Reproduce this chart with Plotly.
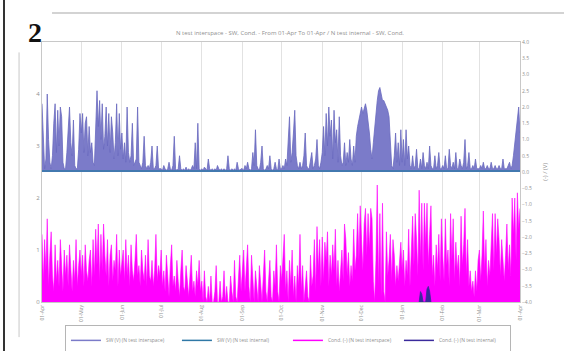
import pandas as pd
import plotly.graph_objects as go

# Daily readings, 01-Apr-2022 .. 31-Mar-2023, one list per month
sw_apr = [2.1,1.2,0.1,0.4,2.4,1.0,0.3,0.1,0.5,1.5, 2.1,0.6,1.9,0.8,2.0,1.7,0.3,0.1,0.1,0.6, 1.4,2.0,0.9,0.5,1.6,0.2,0.1,0.1,0.7,1.8]
sw_may = [1.2,1.8,0.6,1.5,1.7,0.5,1.4,0.6,0.9,0.3, 0.2,1.2,2.5,1.4,2.2,1.0,2.1,0.7,1.1,2.0, 0.8,1.8,0.6,1.7,1.2,0.4,0.9,2.1,0.5,1.8, 0.7]
sw_jun = [1.2,0.4,0.9,0.3,2.0,0.6,0.3,0.5,1.5,0.2, 0.3,0.4,2.0,0.3,0.2,0.1,0.3,1.1,0.2,0.1, 0.2,0.1,0.3,0.8,0.1,0.1,0.2,0.8,0.1,0.1]
sw_jul = [0.1,0.05,0.2,0.1,0.05,0.1,0.3,0.1,0.05,0.2, 1.1,0.1,0.05,0.1,0.5,0.1,0.05,0.1,0.05,0.15, 0.05,0.1,0.05,0.1,0.2,0.1,0.9,0.1,1.5,0.1, 0.05]
sw_aug = [0.1,0.05,0.15,0.1,0.05,0.4,0.1,0.05,0.1,0.05, 0.1,0.05,0.2,0.1,0.05,0.1,0.05,0.1,0.05,0.1, 0.5,0.1,0.05,0.1,0.05,0.1,0.05,0.3,0.1,0.05, 0.1]
sw_sep = [0.1,0.05,0.2,0.1,0.3,0.1,0.05,0.1,0.6,0.2, 1.3,0.2,0.1,0.05,0.3,0.8,0.1,0.05,0.1,0.2, 0.1,0.5,0.1,0.05,0.1,0.3,0.1,0.05,0.4,0.1]
sw_oct = [0.1,0.2,0.1,0.4,0.2,0.8,1.7,0.3,0.6,1.2, 1.9,0.5,0.2,0.1,0.3,0.1,0.2,0.5,1.2,0.2, 0.1,0.1,0.3,0.6,0.1,0.2,0.4,1.0,0.2,0.1, 0.3]
sw_nov = [0.6,1.4,0.5,1.8,0.8,2.0,1.1,1.6,0.4,1.9, 0.9,1.3,0.3,1.7,0.5,0.2,0.3,0.9,0.2,0.6, 0.3,1.0,0.4,0.2,0.8,0.3,1.1,1.4,1.6,1.9]
sw_dec = [2.0,1.8,2.0,2.1,1.9,1.6,1.2,0.7,0.4,0.9, 1.4,1.8,2.2,2.5,2.6,2.4,2.2,2.2,2.1,2.0, 1.9,1.7,0.8,0.2,0.1,0.5,1.2,0.3,0.9,0.2, 1.3]
sw_jan = [0.3,1.0,0.2,1.3,0.4,0.8,0.2,0.1,0.5,0.1, 0.2,0.7,0.1,0.1,0.4,0.1,0.6,0.2,0.1,0.3, 0.1,0.8,0.2,0.1,0.1,0.5,0.1,0.2,0.6,0.1, 0.1]
sw_feb = [0.2,0.1,0.5,0.1,0.1,0.7,0.2,0.1,0.3,0.1, 0.6,0.1,0.1,0.4,0.2,0.1,0.3,1.0,0.1,0.2, 0.6,0.1,0.1,0.2,0.1,0.4,0.1,0.1]
sw_mar = [0.1,0.2,0.1,0.3,0.1,0.1,0.2,0.1,0.1,0.3, 0.1,0.1,0.2,0.1,0.1,0.2,0.1,0.1,0.4,0.1, 0.1,0.1,0.2,0.3,0.1,0.2,0.5,0.9,1.3,1.6, 2.0]
sw_last = [1.2]

cond_apr = [1.3,0.4,1.2,0.6,1.6,0.3,0.9,1.35,0.5,0.2, 1.1,0.4,0.8,0.3,1.2,0.6,0.2,1.0,0.5,0.9, 0.3,1.1,0.6,0.2,0.8,0.4,1.2,0.3,0.7,1.0]
cond_may = [0.5,0.9,0.3,1.1,0.6,0.4,0.8,1.0,0.3,1.2, 0.5,1.4,0.7,1.5,0.4,1.3,0.6,1.5,0.9,0.5, 1.2,0.3,0.9,1.1,0.4,0.8,0.6,1.3,0.3,1.0, 0.5]
cond_jun = [0.7,1.0,0.4,1.2,0.5,0.9,0.3,1.1,0.6,0.4, 0.8,1.3,0.5,0.7,0.3,1.0,0.6,0.4,0.9,0.3, 1.2,0.5,0.4,0.8,0.3,0.6,1.3,0.4,0.7,0.5]
cond_jul = [1.0,0.3,0.6,0.2,0.9,0.4,0.1,0.7,1.1,0.3, 0.5,0.2,0.8,0.4,0.1,0.6,1.0,0.3,0.2,0.7, 0.4,0.1,0.5,0.9,0.2,0.4,0.1,0.6,0.3,0.8, 0.2]
cond_aug = [0.4,0.0,0.6,0.1,0.0,0.3,0.0,0.5,0.0,0.0, 0.2,0.7,0.0,0.0,0.4,0.0,0.1,0.6,0.0,0.3, 0.0,0.0,0.5,0.2,0.0,0.8,0.1,0.0,0.4,0.9, 0.2]
cond_sep = [0.6,1.0,0.2,0.8,1.1,0.3,0.0,0.9,0.4,0.0, 0.6,0.2,0.0,0.7,0.3,0.0,0.5,1.0,0.2,0.0, 0.4,0.8,0.1,0.0,0.6,0.3,1.1,0.2,0.0,0.7]
cond_oct = [0.4,0.9,1.3,0.2,0.6,0.0,0.8,0.3,1.0,0.1, 0.5,0.0,0.7,0.3,1.3,0.2,0.7,0.0,0.4,0.6, 0.1,0.0,0.9,0.3,0.5,1.2,0.2,1.45,0.6,1.2, 0.3]
cond_nov = [1.25,0.4,1.15,0.8,1.35,0.3,0.9,0.5,1.1,0.6, 1.4,0.3,0.8,0.2,0.7,1.0,0.4,1.5,1.2,0.5, 0.95,0.3,0.7,0.4,1.4,0.6,0.9,1.7,0.8,1.85]
cond_dec = [1.2,0.6,1.5,1.8,0.9,1.7,1.0,1.8,1.6,0.4, 0.0,0.8,2.25,0.3,1.7,0.1,1.9,0.2,0.0,1.35, 0.5,0.8,1.3,0.4,1.2,0.9,0.3,0.7,0.4,0.9, 1.15]
cond_jan = [0.6,1.0,0.3,0.8,0.5,1.4,0.3,0.9,1.65,0.7, 1.7,1.2,0.5,2.15,0.8,1.9,0.6,1.9,1.1,1.9, 0.7,1.3,1.85,0.5,0.9,0.3,1.1,0.6,1.3,0.4, 1.6]
cond_feb = [0.9,0.4,1.6,0.7,1.0,0.3,1.7,0.8,1.6,0.4, 1.15,0.6,0.9,0.3,1.65,0.7,1.1,1.8,0.5,1.2, 0.3,0.6,0.2,0.4,0.1,0.6,0.2,0.8]
cond_mar = [1.0,0.4,0.9,1.75,0.6,1.2,0.3,0.8,0.5,1.1, 1.7,0.6,1.7,0.9,1.6,1.2,0.5,1.2,0.7,0.4, 0.9,1.5,0.6,1.1,0.5,2.0,1.3,2.0,0.8,2.1, 1.4]
cond_last = [1.8]

# Internal sensor: SW stays flat, conductivity only registers briefly in January
sw_internal_dates = ["2022-04-01", "2022-06-01", "2022-08-01", "2022-10-01", "2022-12-01", "2023-02-01", "2023-04-01"]
sw_internal_values = [0.03, 0.03, 0.02, 0.03, 0.03, 0.02, 0.03]
cond_internal_dates = ["2023-01-14", "2023-01-15", "2023-01-16", "2023-01-17", "2023-01-19",
                       "2023-01-20", "2023-01-21", "2023-01-22", "2023-01-23"]
cond_internal_values = [0.0, 0.2, 0.15, 0.0, 0.0, 0.25, 0.3, 0.2, 0.0]

series_names = ["SW (V) (N test interspace)", "SW (V) (N test internal)",
                "Cond. (-) (N test interspace)", "Cond. (-) (N test internal)"]
series_colors = ["#7b7bc9", "#2f78a6", "#ff00ff", "#3a2a9c"]

month_ticks = pd.date_range("2022-04-01", "2023-04-01", freq="MS")
days = pd.date_range("2022-04-01", "2023-04-01", freq="D")

sw_interspace = (sw_apr + sw_may + sw_jun + sw_jul + sw_aug + sw_sep + sw_oct + sw_nov
                 + sw_dec + sw_jan + sw_feb + sw_mar + sw_last)
cond_interspace = (cond_apr + cond_may + cond_jun + cond_jul + cond_aug + cond_sep + cond_oct
                   + cond_nov + cond_dec + cond_jan + cond_feb + cond_mar + cond_last)

GREY = "#8f8f8f"
FONT = "Open Sans"

fig = go.Figure()
fig.add_trace(go.Scatter(
    x=days, y=sw_interspace, yaxis="y2", mode="lines", fill="tozeroy",
    line=dict(color="#6a6abf", width=0.8), fillcolor=series_colors[0],
    name=series_names[0], showlegend=False))
fig.add_trace(go.Scatter(
    x=pd.to_datetime(sw_internal_dates), y=sw_internal_values, yaxis="y2", mode="lines",
    line=dict(color=series_colors[1], width=1.5), name=series_names[1], showlegend=False))
fig.add_trace(go.Scatter(
    x=days, y=cond_interspace, mode="lines", fill="tozeroy",
    line=dict(color=series_colors[2], width=0.6), fillcolor=series_colors[2],
    name=series_names[2], showlegend=False))
fig.add_trace(go.Scatter(
    x=pd.to_datetime(cond_internal_dates), y=cond_internal_values, mode="lines", fill="tozeroy",
    line=dict(color=series_colors[3], width=0.8), fillcolor=series_colors[3],
    name=series_names[3], showlegend=False))

# Legend shows every series as a plain line key
for name, color in zip(series_names, series_colors):
    fig.add_trace(go.Scatter(x=[None], y=[None], mode="lines", name=name,
                             line=dict(color=color, width=1.5)))

fig.update_layout(
    width=564, height=351,
    margin=dict(l=42, r=44, t=42, b=49, autoexpand=False),
    paper_bgcolor="white", plot_bgcolor="white",
    font=dict(family=FONT, size=6, color=GREY),
    showlegend=True,
    legend=dict(orientation="h", x=0.048, y=-0.088, xanchor="left", yanchor="top",
                bordercolor="#b5b5b5", borderwidth=1, bgcolor="white",
                font=dict(size=5, color=GREY), entrywidth=66, itemwidth=30,
                tracegroupgap=0),
    xaxis=dict(range=[days[0], days[-1]], tickvals=month_ticks, tickformat="%d-%b",
               tickangle=-90, showgrid=True, gridcolor="#e2e2e2", gridwidth=1,
               showline=True, linecolor="#c8c8c8", mirror=True, ticks="",
               tickfont=dict(size=5, color=GREY), zeroline=False),
    yaxis=dict(range=[0, 5], tickvals=[0, 1, 2, 3, 4], showgrid=False, zeroline=False,
               showline=True, linecolor="#c8c8c8", ticks="",
               tickfont=dict(size=6, color=GREY)),
    yaxis2=dict(range=[-4, 4], overlaying="y", side="right", dtick=0.5, tickformat=".1f",
                showgrid=False, zeroline=False, showline=True, linecolor="#c8c8c8",
                ticks="", tickfont=dict(size=5, color=GREY)),
)

# Title, right-axis caption and figure number
fig.add_annotation(text="N test interspace - SW, Cond. - From 01-Apr To 01-Apr / N test internal - SW, Cond.",
                   xref="paper", yref="paper", x=0.519, y=1.035, xanchor="center", yanchor="middle",
                   showarrow=False, font=dict(size=6, color=GREY))
fig.add_annotation(text="(-) / (V)", xref="paper", yref="paper", x=1.052, y=0.5,
                   xanchor="center", yanchor="middle",
                   textangle=-90, showarrow=False, font=dict(size=6, color=GREY))
fig.add_annotation(text="<b>2</b>", xref="paper", yref="paper", x=-0.0146, y=1.035,
                   xanchor="center", yanchor="middle",
                   showarrow=False, font=dict(size=28, color="#111111", family="Liberation Serif"))

# Page frame lines
fig.add_shape(type="line", xref="paper", yref="paper", x0=0.021, x1=1.1, y0=1.1115, y1=1.1115,
              line=dict(color="#c4c4c4", width=1.5))
fig.add_shape(type="line", xref="paper", yref="paper", x0=-0.0795, x1=-0.0795, y0=1.17, y1=-0.19,
              line=dict(color="#333333", width=2))
fig.add_shape(type="line", xref="paper", yref="paper", x0=-0.048, x1=-0.048, y0=0.96, y1=-0.135,
              line=dict(color="#c8c8c8", width=1))

fig.write_html("out.html")
